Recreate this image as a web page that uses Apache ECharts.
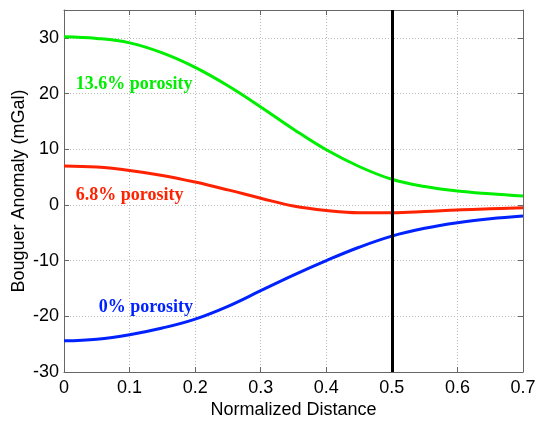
<!DOCTYPE html>
<html>
<head>
<meta charset="utf-8">
<script src="https://cdn.jsdelivr.net/npm/echarts@6/dist/echarts.min.js"></script>
<style>
  html, body { margin: 0; padding: 0; background: #fff; }
  #chart { width: 536px; height: 422px; }
</style>
</head>
<body>
<div id="chart"></div>
<script>
// normalized distance samples
const distance = [0, 0.05, 0.1, 0.15, 0.2, 0.25, 0.3, 0.35, 0.4, 0.45, 0.5, 0.55, 0.6, 0.65, 0.7]

// anomaly curves (mGal)
const porosity136 = [30.2, 29.9, 29.1, 27.3, 24.7, 21.4, 17.6, 13.6, 9.9, 6.9, 4.6, 3.3, 2.5, 2.0, 1.6]
const porosity68 = [7.0, 6.8, 6.2, 5.3, 4.1, 2.7, 1.2, -0.2, -1.0, -1.4, -1.4, -1.2, -0.9, -0.7, -0.5]
const porosity0 = [-24.4, -24.1, -23.3, -22.1, -20.5, -18.2, -15.4, -12.6, -10.0, -7.6, -5.6, -4.2, -3.2, -2.5, -2.0]

const xTicks = [0, 0.1, 0.2, 0.3, 0.4, 0.5, 0.6, 0.7]
const yTicks = [-30, -20, -10, 0, 10, 20, 30]
const markerX = 0.5

// label anchors in data space
const curveLabels = [
  { text: '13.6% porosity', x: 0.018, y: 21.7, color: '#00ee00' },
  { text: '6.8% porosity', x: 0.018, y: 1.8, color: '#ff2200' },
  { text: '0% porosity', x: 0.053, y: -18.4, color: '#0022ff' }
]

const pairs = (ys) => distance.map((d, i) => [d, ys[i]])

const chart = echarts.init(document.getElementById('chart'))

const axisFont = { fontFamily: 'Liberation Sans, Arial, sans-serif', fontSize: 18, color: '#000' }
const boxLine = { show: true, onZero: false, lineStyle: { color: '#666', width: 1 } }
const tick = { show: true, inside: true, length: 5, lineStyle: { color: '#666' } }
const gridLine = { show: true, lineStyle: { color: '#bbb', type: [1, 2], width: 1 } }

const option = {
  animation: false,
  grid: { left: 64, right: 13, top: 10, bottom: 50, containLabel: false, outerBoundsMode: 'none' },
  xAxis: [
    {
      type: 'value', min: 0, max: 0.7, interval: 0.1,
      name: 'Normalized Distance', nameLocation: 'middle', nameGap: 29, nameMoveOverlap: false,
      nameTextStyle: axisFont,
      axisLine: boxLine,
      axisTick: tick,
      axisLabel: Object.assign({ margin: 7, formatter: (v) => String(+v.toFixed(1)) }, axisFont),
      splitLine: gridLine
    },
    {
      type: 'value', min: 0, max: 0.7, interval: 0.1, position: 'top',
      axisLine: boxLine,
      axisTick: tick,
      axisLabel: { show: false },
      splitLine: { show: false }
    }
  ],
  yAxis: [
    {
      type: 'value', min: -30, max: 35, interval: 10,
      name: 'Bouguer Anomaly (mGal)', nameLocation: 'middle', nameGap: 36, nameMoveOverlap: false,
      nameTextStyle: axisFont,
      axisLine: boxLine,
      axisTick: tick,
      axisLabel: Object.assign({
        margin: 5,
        formatter: (v) => (yTicks.indexOf(v) >= 0 ? String(v) : '')
      }, axisFont),
      splitLine: gridLine
    },
    {
      type: 'value', min: -30, max: 35, interval: 10, position: 'right',
      axisLine: boxLine,
      axisTick: tick,
      axisLabel: { show: false },
      splitLine: { show: false }
    }
  ],
  series: [
    {
      name: '13.6% porosity', type: 'line', smooth: 0.4, showSymbol: false,
      lineStyle: { color: '#00ee00', width: 3 },
      data: pairs(porosity136)
    },
    {
      name: '6.8% porosity', type: 'line', smooth: 0.4, showSymbol: false,
      lineStyle: { color: '#ff2200', width: 3 },
      data: pairs(porosity68)
    },
    {
      name: '0% porosity', type: 'line', smooth: 0.4, showSymbol: false,
      lineStyle: { color: '#0022ff', width: 3 },
      data: pairs(porosity0),
      markLine: {
        silent: true, symbol: 'none', label: { show: false },
        lineStyle: { color: '#000', width: 3, type: 'solid' },
        data: [{ xAxis: markerX }]
      }
    }
  ]
}

chart.setOption(option)

// place curve labels from data coordinates
chart.setOption({
  graphic: curveLabels.map((l) => {
    const p = chart.convertToPixel({ xAxisIndex: 0, yAxisIndex: 0 }, [l.x, l.y])
    return {
      type: 'text', x: p[0], y: p[1],
      style: {
        text: l.text, fill: l.color,
        font: 'bold 18px "Liberation Serif", "Times New Roman", serif',
        verticalAlign: 'middle', align: 'left'
      }
    }
  })
})

window.addEventListener('resize', () => {
  chart.resize()
})
</script>
</body>
</html>
